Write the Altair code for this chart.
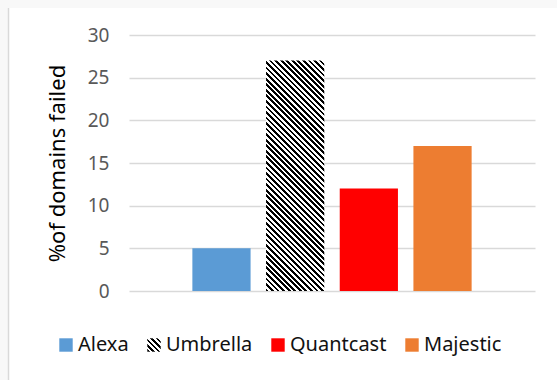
import json
import altair as alt
import pandas as pd

# ---- data ----
sites = ["Alexa", "Umbrella", "Quantcast", "Majestic"]
failed = [5, 27, 12, 17]
solid_colors = {"Alexa": "#5B9BD5", "Quantcast": "#FF0000", "Majestic": "#ED7D31"}
y_ticks = [0, 5, 10, 15, 20, 25, 30]

df = pd.DataFrame({"site": sites, "failed": failed})

# ---- layout / style ----
PLOT_W, PLOT_H = 406, 256
PAD_L, PAD_T, PAD_R, PAD_B = 129, 35, 22, 89
PAD_IN, PAD_OUT = 0.21, 0.86
Y_MAX = 30
FONT = "Noto Sans"
PERIOD = 5.6  # horizontal stripe period in px


def stripe_stops(n):
    stops = []
    for i in range(n):
        a, m, b = i / n, (i + 0.5) / n, (i + 1) / n
        stops += [
            {"offset": a, "color": "#000000"},
            {"offset": m, "color": "#000000"},
            {"offset": m, "color": "#ffffff"},
            {"offset": b, "color": "#ffffff"},
        ]
    return stops


def hatch(w, h, period):
    # 45-degree "\" stripes inside a w x h box (objectBoundingBox units)
    a = (w + h) * h / (w * w + h * h)
    n = max(1, round((w + h) / period))
    return {
        "gradient": "linear",
        "x1": 0, "y1": 1,
        "x2": w / h * a, "y2": 1 - a,
        "stops": stripe_stops(n),
    }


step = PLOT_W / (len(sites) - PAD_IN + 2 * PAD_OUT)
bar_w = step * (1 - PAD_IN)
bar_h = PLOT_H * failed[sites.index("Umbrella")] / Y_MAX
bar_hatch = hatch(bar_w, bar_h, PERIOD)
legend_hatch = hatch(13, 13, 5.0)

color_range = [
    solid_colors["Alexa"],
    {"expr": json.dumps(legend_hatch)},
    solid_colors["Quantcast"],
    solid_colors["Majestic"],
]

bars = alt.Chart(df).mark_bar(strokeWidth=0).encode(
    x=alt.X(
        "site:N",
        sort=sites,
        axis=None,
        scale=alt.Scale(paddingInner=PAD_IN, paddingOuter=PAD_OUT),
    ),
    y=alt.Y(
        "failed:Q",
        scale=alt.Scale(domain=[0, Y_MAX], nice=False),
        axis=alt.Axis(
            values=y_ticks,
            title="%of domains failed",
            grid=True,
            gridColor="#D9D9D9",
            gridWidth=1.3,
            domain=False,
            ticks=False,
            labelColor="#595959",
            labelFontSize=19,
            labelFont=FONT,
            labelPadding=20,
            titleFont=FONT,
            titleFontSize=22,
            titleFontWeight="normal",
            titleColor="#000000",
            titlePadding=18,
        ),
    ),
    fill=alt.condition(
        "datum.site === 'Umbrella'",
        alt.value(bar_hatch),
        alt.Fill(
            "site:N",
            sort=sites,
            scale=alt.Scale(domain=sites, range=color_range),
            legend=alt.Legend(
                title=None,
                orient="none",
                direction="horizontal",
                legendX=-73,
                legendY=300,
                symbolType="square",
                symbolSize=180,
                symbolStrokeWidth=0,
                symbolOpacity=1,
                labelFont=FONT,
                labelFontSize=20,
                labelColor="#111111",
                labelOffset=2,
                columnPadding=15,
            ),
        ),
    ),
)

# chart-frame decoration (outside the plot area): light margin + grey left border
frame = pd.DataFrame({"part": ["frame"]})
margin_left = alt.Chart(frame).mark_rect(color="#F8F8F8").encode(
    x=alt.value(-PAD_L), x2=alt.value(-PAD_L + 8),
    y=alt.value(-PAD_T), y2=alt.value(PLOT_H + PAD_B),
)
margin_top = alt.Chart(frame).mark_rect(color="#F8F8F8").encode(
    x=alt.value(-PAD_L), x2=alt.value(PLOT_W + PAD_R),
    y=alt.value(-PAD_T), y2=alt.value(-PAD_T + 8),
)
border = alt.Chart(frame).mark_rule(color="#D9D9D9", strokeWidth=1.5).encode(
    x=alt.value(-PAD_L + 8.5),
    y=alt.value(-PAD_T + 8), y2=alt.value(PLOT_H + PAD_B),
)

chart = alt.layer(margin_left, margin_top, border, bars).properties(
    width=PLOT_W,
    height=PLOT_H,
    autosize=alt.AutoSizeParams(type="none"),
    padding={"left": PAD_L, "top": PAD_T, "right": PAD_R, "bottom": PAD_B},
).configure(background="#FFFFFF").configure_view(stroke=None)

chart.save("out.html", embed_options={"renderer": "svg", "actions": False})
